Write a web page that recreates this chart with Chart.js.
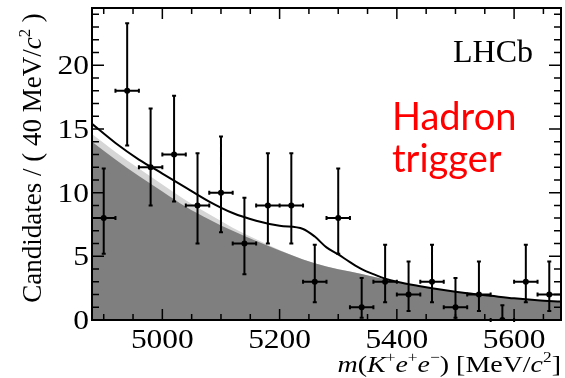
<!DOCTYPE html>
<html>
<head>
<meta charset="utf-8">
<script src="https://cdn.jsdelivr.net/npm/chart.js@4.4.1/dist/chart.umd.min.js"></script>
<style>
  body { margin: 0; background: #fff; }
  #wrap { width: 565px; height: 378px; position: relative; }
</style>
</head>
<body>
<div id="wrap"><canvas id="massChart"></canvas></div>
<script>
// binned data, 40 MeV bins
var binCenters = [4900, 4940, 4980, 5020, 5060, 5100, 5140, 5180, 5220, 5260, 5300, 5340, 5380, 5420, 5460, 5500, 5540, 5580, 5620, 5660];
var counts = [8, 18, 12, 13, 9, 10, 6, 9, 9, 3, 8, 1, 3, 2, 3, 1, 2, 0, 3, 2];
var errLow = [5.2, 13.7, 9.0, 9.3, 6.0, 6.9, 3.6, 6.0, 6.0, 1.4, 5.2, 0.17, 1.4, 0.7, 1.4, 0.17, 0.7, 0, 1.4, 0.7];
var errHigh = [11.9, 23.3, 16.6, 17.6, 13.1, 14.4, 9.6, 13.1, 13.1, 5.9, 11.9, 3.3, 5.9, 4.6, 5.9, 3.3, 4.6, 1.15, 5.9, 4.6];
var binHalfWidth = 20;

// fit components
var curveMass = [4880, 4920, 4960, 5000, 5040, 5080, 5120, 5160, 5200, 5240, 5280, 5320, 5360, 5400, 5440, 5480, 5520, 5560, 5600, 5640, 5680];
var bkgLevel = [14.0, 12.6, 11.3, 10.1, 8.9, 7.9, 7.0, 6.2, 5.45, 4.75, 4.2, 3.8, 3.4, 3.0, 2.65, 2.35, 2.1, 1.9, 1.7, 1.55, 1.45];
var bandLevel = [14.6, 13.2, 11.9, 10.65, 9.4, 8.3, 7.25, 6.35, 5.5, 4.75, 4.2, 3.8, 3.4, 3.0, 2.65, 2.35, 2.1, 1.9, 1.7, 1.55, 1.45];
var totalMass = [4880, 4920, 4960, 5000, 5040, 5080, 5120, 5160, 5200, 5240, 5260, 5280, 5300, 5320, 5340, 5360, 5380, 5400, 5440, 5480, 5520, 5560, 5600, 5640, 5680];
var totalLevel = [15.4, 13.9, 12.6, 11.5, 10.4, 9.3, 8.4, 7.8, 7.4, 7.15, 6.55, 5.7, 5.15, 4.55, 4.0, 3.6, 3.25, 3.0, 2.65, 2.35, 2.1, 1.9, 1.7, 1.55, 1.45];

var xTickValues = [5000, 5200, 5400, 5600];
var yTickValues = [0, 5, 10, 15, 20];
var xRange = [4880, 5680];
var yRange = [0, 24.5];

var serif = "'Liberation Serif', 'Times New Roman', serif";
var stretch = 1.165;

function pairs(xs, ys) {
  return xs.map(function(x, i) { return { x: x, y: ys[i] }; });
}

function fontFor(p, size) {
  var s = p.sup ? size * 0.62 : size;
  return (p.it ? 'italic ' : '') + s + 'px ' + serif;
}
function richWidth(ctx, parts, size) {
  var w = 0;
  parts.forEach(function(p) {
    ctx.font = fontFor(p, size);
    w += ctx.measureText(p.t).width;
  });
  return w;
}
function drawRich(ctx, parts, x, y, size) {
  parts.forEach(function(p) {
    ctx.font = fontFor(p, size);
    ctx.fillText(p.t, x, p.sup ? y - size * 0.4 : y);
    x += ctx.measureText(p.t).width;
  });
}

var xTitle = [
  { t: 'm', it: true }, { t: '(' }, { t: 'K', it: true }, { t: '+', sup: true },
  { t: 'e', it: true }, { t: '+', sup: true }, { t: 'e', it: true }, { t: '\u2212', sup: true },
  { t: ') [MeV/' }, { t: 'c', it: true }, { t: '2', sup: true }, { t: ']' }
];
var yTitle = [
  { t: 'Candidates / ( 40 MeV/' }, { t: 'c', it: true }, { t: '2', sup: true }, { t: ' )' }
];

var errorBars = {
  id: 'errorBars',
  afterDatasetsDraw: function(chart) {
    var ctx = chart.ctx, xs = chart.scales.x, ys = chart.scales.y;
    ctx.save();
    ctx.strokeStyle = '#000';
    ctx.lineWidth = 2;
    ctx.beginPath();
    binCenters.forEach(function(c, i) {
      var px = xs.getPixelForValue(c);
      var py = ys.getPixelForValue(counts[i]);
      var lo = ys.getPixelForValue(errLow[i]);
      var hi = ys.getPixelForValue(errHigh[i]);
      var l = xs.getPixelForValue(c - binHalfWidth);
      var r = xs.getPixelForValue(c + binHalfWidth);
      ctx.moveTo(px, lo); ctx.lineTo(px, hi);
      ctx.moveTo(l, py); ctx.lineTo(r, py);
      ctx.moveTo(px - 2, hi); ctx.lineTo(px + 2, hi);
      ctx.moveTo(px - 2, lo); ctx.lineTo(px + 2, lo);
      ctx.moveTo(l, py - 2); ctx.lineTo(l, py + 2);
      ctx.moveTo(r, py - 2); ctx.lineTo(r, py + 2);
    });
    ctx.stroke();
    ctx.restore();
  }
};

var frameAndText = {
  id: 'frameAndText',
  afterDraw: function(chart) {
    var ctx = chart.ctx, a = chart.chartArea, xs = chart.scales.x, ys = chart.scales.y;
    var v, p, len;
    ctx.save();
    ctx.strokeStyle = '#000';
    ctx.lineWidth = 1.5;
    ctx.beginPath();
    for (v = Math.ceil(xs.min / 50) * 50; v <= xs.max; v += 50) {
      p = xs.getPixelForValue(v);
      len = v % 200 === 0 ? 11 : 6;
      ctx.moveTo(p, a.bottom); ctx.lineTo(p, a.bottom - len);
      ctx.moveTo(p, a.top); ctx.lineTo(p, a.top + len);
    }
    for (v = 0; v <= ys.max; v += 1) {
      p = ys.getPixelForValue(v);
      len = v % 5 === 0 ? 12 : 7;
      ctx.moveTo(a.left, p); ctx.lineTo(a.left + len, p);
      ctx.moveTo(a.right, p); ctx.lineTo(a.right - len, p);
    }
    ctx.stroke();
    ctx.lineWidth = 2;
    ctx.strokeRect(a.left, a.top, a.right - a.left, a.bottom - a.top);

    ctx.fillStyle = '#000';
    ctx.font = '27px ' + serif;
    ctx.textBaseline = 'alphabetic';
    ys.ticks.forEach(function(t) {
      ctx.save();
      ctx.translate(a.left - 3, ys.getPixelForValue(t.value) + 9);
      ctx.scale(stretch, 1);
      ctx.textAlign = 'right';
      ctx.fillText(String(t.value), 0, 0);
      ctx.restore();
    });
    xs.ticks.forEach(function(t) {
      ctx.save();
      ctx.translate(xs.getPixelForValue(t.value), 348);
      ctx.scale(stretch, 1);
      ctx.textAlign = 'center';
      ctx.fillText(String(t.value), 0, 0);
      ctx.restore();
    });

    ctx.textAlign = 'left';
    ctx.save();
    ctx.translate(a.right, 372);
    ctx.scale(stretch, 1);
    drawRich(ctx, xTitle, -richWidth(ctx, xTitle, 24), 0, 24);
    ctx.restore();

    ctx.save();
    ctx.translate(41, 158);
    ctx.rotate(-Math.PI / 2);
    drawRich(ctx, yTitle, -richWidth(ctx, yTitle, 27) / 2, 0, 27);
    ctx.restore();

    ctx.font = '32px ' + serif;
    ctx.textAlign = 'right';
    ctx.fillText('LHCb', 533, 62);

    ctx.fillStyle = '#ff0000';
    ctx.font = '38px Lato, "Open Sans", sans-serif';
    ctx.textAlign = 'left';
    ctx.fillText('Hadron', 392, 130);
    ctx.fillText('trigger', 392, 172);
    ctx.restore();
  }
};

var chartCtx = document.getElementById('massChart').getContext('2d');
new Chart(chartCtx, {
  type: 'scatter',
  data: {
    datasets: [
      { label: 'Data', data: pairs(binCenters, counts), pointRadius: 3, pointBackgroundColor: '#000', pointBorderWidth: 0, showLine: false, order: 0 },
      { label: 'Total', data: pairs(totalMass, totalLevel), showLine: true, borderColor: '#000', borderWidth: 2, pointRadius: 0, cubicInterpolationMode: 'monotone', fill: false, order: 1 },
      { label: 'Background', data: pairs(curveMass, bkgLevel), showLine: true, borderColor: 'rgba(0,0,0,0)', borderWidth: 0, pointRadius: 0, backgroundColor: '#7f7f7f', fill: 'origin', cubicInterpolationMode: 'monotone', order: 2 },
      { label: 'Band', data: pairs(curveMass, bandLevel), showLine: true, borderColor: 'rgba(0,0,0,0)', borderWidth: 0, pointRadius: 0, backgroundColor: '#d6d6d6', fill: 'origin', cubicInterpolationMode: 'monotone', order: 3 }
    ]
  },
  options: {
    responsive: true,
    maintainAspectRatio: false,
    animation: false,
    layout: { padding: { top: 8, right: 2, left: 0, bottom: 0 } },
    plugins: { legend: { display: false }, tooltip: { enabled: false } },
    scales: {
      x: {
        type: 'linear', min: xRange[0], max: xRange[1],
        ticks: { display: false }, grid: { display: false }, border: { display: false },
        afterBuildTicks: function(scale) { scale.ticks = xTickValues.map(function(v) { return { value: v }; }); },
        afterFit: function(scale) { scale.height = 58; }
      },
      y: {
        type: 'linear', min: yRange[0], max: yRange[1],
        ticks: { display: false }, grid: { display: false }, border: { display: false },
        afterBuildTicks: function(scale) { scale.ticks = yTickValues.map(function(v) { return { value: v }; }); },
        afterFit: function(scale) { scale.width = 92; }
      }
    }
  },
  plugins: [errorBars, frameAndText]
});
</script>
</body>
</html>
